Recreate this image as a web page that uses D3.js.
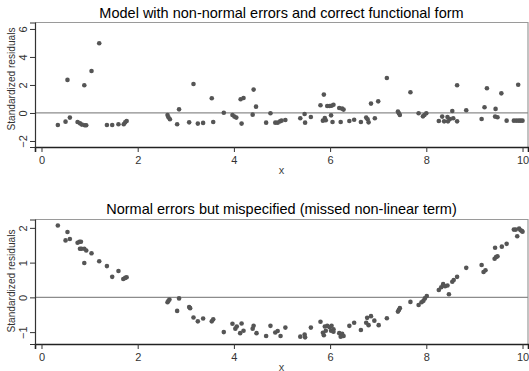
<!DOCTYPE html>
<html>
<head>
<meta charset="utf-8">
<script src="https://cdn.jsdelivr.net/npm/d3@7"></script>
<style>
  html, body { margin: 0; padding: 0; background: #fff; }
  svg { display: block; font-family: "Liberation Sans", Arial, sans-serif; }
</style>
</head>
<body>
<svg id="chart" width="529" height="371"></svg>
<script>
// Panel 1: non-normal errors, correct functional form
const x1 = [0.34,0.50,0.54,0.59,0.75,0.80,0.84,0.89,0.90,0.93,1.04,1.20,1.36,1.47,1.60,1.71,1.74,1.77,
  2.62,2.64,2.67,2.82,2.86,3.07,3.16,3.25,3.36,3.54,3.57,3.79,3.97,4.01,4.05,4.14,4.16,4.20,4.39,4.41,4.46,
  4.67,4.76,4.86,4.91,4.96,4.99,5.07,5.38,5.47,5.48,5.60,5.80,5.85,5.87,5.89,5.91,5.94,5.99,6.02,6.03,6.05,6.07,
  6.19,6.22,6.25,6.28,6.40,6.50,6.64,6.75,6.78,6.80,6.85,6.93,7.00,7.18,7.41,7.43,7.45,7.67,7.84,7.93,7.96,8.00,
  8.26,8.33,8.37,8.44,8.45,8.49,8.54,8.56,8.64,8.64,8.83,9.15,9.21,9.26,9.43,9.44,9.48,9.56,9.67,9.82,9.87,9.91,
  9.92,9.96,10.0];
const y1 = [-0.86,-0.62,2.36,-0.33,-0.64,-0.74,-0.83,1.98,-0.88,-0.88,3.0,4.98,-0.86,-0.86,-0.81,-0.81,-0.67,-0.57,
  -0.14,-0.31,-0.45,-0.81,0.26,-0.67,2.07,-0.76,-0.71,1.05,-0.64,0.02,-0.14,-0.26,-0.33,0.98,-0.76,1.07,-0.12,1.67,0.45,
  -0.69,-0.02,-0.69,-0.69,-0.60,-0.55,-0.50,-0.38,-0.07,-0.69,-0.29,0.55,-0.55,1.31,-0.36,-0.52,0.50,0.50,-0.17,0.52,-0.64,0.59,
  0.36,-0.64,0.31,0.24,-0.57,-0.48,-0.64,-0.33,-0.45,-0.67,0.67,-0.38,0.83,2.5,0.10,-0.02,-0.14,1.48,-0.02,-0.24,-0.14,-0.02,
  -0.57,-0.26,-0.60,-0.29,-0.60,-0.43,0.14,-0.38,1.98,-0.60,0.19,-0.43,0.41,1.76,-0.26,0.29,-0.31,1.40,-0.55,-0.55,-0.55,2.02,
  -0.55,-0.55,-0.55];

// Panel 2: normal errors, missed non-linear term
const x2 = [0.34,0.50,0.54,0.59,0.75,0.79,0.82,0.80,0.83,0.89,0.89,0.93,1.04,1.20,1.36,1.47,1.60,1.70,1.74,1.77,
  2.62,2.64,2.66,2.82,2.86,3.07,3.09,3.16,3.25,3.36,3.54,3.57,3.79,3.97,4.03,4.06,4.13,4.16,4.20,4.39,4.41,4.47,
  4.67,4.76,4.86,4.91,4.97,5.07,5.38,5.47,5.48,5.60,5.80,5.85,5.87,5.89,5.91,5.94,5.99,6.02,6.03,6.07,6.07,
  6.19,6.22,6.25,6.28,6.40,6.50,6.64,6.75,6.77,6.80,6.85,6.92,7.01,7.18,7.41,7.43,7.45,7.67,7.84,7.90,7.94,7.97,8.01,
  8.26,8.31,8.35,8.39,8.44,8.47,8.54,8.57,8.64,8.83,9.15,9.19,9.23,9.42,9.45,9.48,9.43,9.57,9.67,9.82,9.86,9.89,
  9.93,9.96,9.99,10.0];
const y2 = [2.07,1.64,1.88,1.68,1.57,1.60,1.60,1.40,1.40,1.40,0.99,1.35,1.27,1.04,0.90,0.59,0.76,0.53,0.56,0.58,
  -0.14,-0.10,-0.06,-0.39,-0.03,-0.28,-0.31,-0.58,-0.69,-0.61,-0.69,-0.63,-1.00,-0.76,-0.90,-0.84,-1.03,-0.75,-0.96,-0.90,-0.82,-1.03,
  -1.11,-0.82,-1.01,-0.97,-1.11,-0.87,-1.13,-1.07,-1.15,-0.87,-0.70,-1.02,-1.09,-0.84,-0.96,-0.82,-0.86,-0.96,-0.82,-0.92,-0.99,
  -1.03,-1.13,-1.05,-1.11,-0.82,-0.73,-0.94,-0.73,-0.59,-0.80,-0.54,-0.67,-0.80,-0.60,-0.41,-0.36,-0.31,-0.13,-0.22,-0.14,-0.10,-0.03,0.04,
  0.21,0.29,0.38,0.32,0.34,0.09,0.45,0.50,0.59,0.85,0.93,0.73,0.78,1.11,1.16,1.18,1.43,1.46,1.54,1.95,1.95,1.76,
  1.98,1.93,1.91,1.89];

const xTicks = [0, 2, 4, 6, 8, 10];
const yTicks1 = [-2, 0, 2, 4, 6];
const yTicks2 = [-1, 0, 1, 2];

const titles = [
  "Model with non-normal errors and correct functional form",
  "Normal errors but mispecified (missed non-linear term)"
];
const yTitle = "Standardized residuals";
const xTitle = "x";

const svg = d3.select("#chart");
const left = 35, right = 528;

const x = d3.scaleLinear().domain([-0.135, 10.114]).range([left, right]);

const panels = [
  { xs: x1, ys: y1, ticks: yTicks1, domain: [-2.43, 6.46], top: 22.5, bottom: 147, title: titles[0], titleY: 18, yTitleY: 79 },
  { xs: x2, ys: y2, ticks: yTicks2, domain: [-1.342, 2.241], top: 219.5, bottom: 344, title: titles[1], titleY: 213.5, yTitleY: 281 }
];

panels.forEach(p => {
  const y = d3.scaleLinear().domain(p.domain).range([p.bottom, p.top]);
  const g = svg.append("g");

  // plot frame (top and right edges)
  g.append("path")
    .attr("d", `M${left},${p.top}H${right}V${p.bottom}`)
    .attr("fill", "none").attr("stroke", "#9a9a9a").attr("stroke-width", 1.2);

  // reference line at zero
  g.append("line")
    .attr("x1", left).attr("x2", right)
    .attr("y1", y(0)).attr("y2", y(0))
    .attr("stroke", "#8c8c8c").attr("stroke-width", 1.2);

  // x axis
  const xa = g.append("g").attr("transform", `translate(0,${p.bottom})`)
    .call(d3.axisBottom(x).tickValues(xTicks).tickSize(5).tickPadding(4).tickFormat(d3.format("d")));
  xa.select(".domain").attr("stroke", "#222").attr("stroke-width", 1.6);
  xa.selectAll(".tick line").attr("stroke", "#333");
  xa.selectAll("text").attr("font-size", 11).attr("fill", "#333").attr("font-family", "Liberation Sans, Arial, sans-serif");

  // y axis
  const ya = g.append("g").attr("transform", `translate(${left},0)`)
    .call(d3.axisLeft(y).tickValues(p.ticks).tickSize(5).tickFormat(d3.format("d")));
  ya.select(".domain").attr("stroke", "#333").attr("stroke-width", 1.2);
  ya.selectAll(".tick line").attr("stroke", "#333");
  ya.selectAll(".tick text")
    .attr("x", null).attr("dy", null)
    .attr("transform", "translate(-8,0) rotate(-90)")
    .attr("text-anchor", "middle")
    .attr("font-size", 11).attr("fill", "#333").attr("font-family", "Liberation Sans, Arial, sans-serif");

  // titles
  g.append("text")
    .attr("x", (left + right) / 2).attr("y", p.titleY)
    .attr("text-anchor", "middle").attr("font-size", 14.5).attr("fill", "#000")
    .text(p.title);

  g.append("text")
    .attr("transform", `translate(15,${p.yTitleY}) rotate(-90)`)
    .attr("text-anchor", "middle").attr("font-size", 11.5).attr("fill", "#333")
    .attr("textLength", 103).attr("lengthAdjust", "spacingAndGlyphs")
    .text(yTitle);

  g.append("text")
    .attr("x", (left + right) / 2).attr("y", p.bottom + 26.5)
    .attr("text-anchor", "middle").attr("font-size", 11).attr("fill", "#444")
    .text(xTitle);

  // residual points
  g.append("g").selectAll("circle")
    .data(p.xs.map((v, i) => [v, p.ys[i]]))
    .join("circle")
    .attr("cx", d => x(d[0])).attr("cy", d => y(d[1]))
    .attr("r", 2.3).attr("fill", "#555");
});
</script>
</body>
</html>
